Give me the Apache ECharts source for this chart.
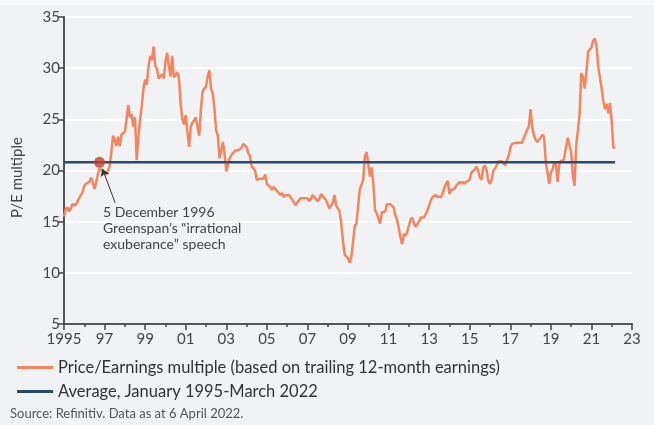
<!DOCTYPE html>
<html>
<head>
<meta charset="utf-8">
<script src="https://cdn.jsdelivr.net/npm/echarts@6/dist/echarts.min.js"></script>
<style>
html,body{margin:0;padding:0;background:#f1f2f4;}
#c{width:654px;height:425px;}
</style>
</head>
<body>
<div id="c"></div>
<script>
// ---- data ----
const startYear = 1995; // first month: January 1995, monthly values
const peMultiple = [
 15.5,16.2,16.4,16.0,16.3,16.7,16.8,16.6,17.0,17.3,17.4,17.9,
 18.5,18.7,18.8,18.9,19.3,18.9,18.2,18.8,19.6,20.2,20.2,19.9,
 19.8,19.6,19.7,20.4,21.8,23.4,23.0,22.4,23.3,22.4,23.5,23.6,
 23.8,25.0,26.4,25.2,25.5,24.3,25.2,21.0,23.3,24.9,26.3,28.0,
 28.9,28.4,30.2,31.2,30.8,32.1,30.2,29.9,29.0,29.2,29.4,29.0,
 30.6,31.5,30.2,29.2,31.2,29.1,29.0,29.6,29.0,26.5,25.0,24.5,
 25.4,23.8,22.3,24.3,24.7,24.9,25.2,24.2,23.4,26.0,27.7,28.0,
 28.2,29.2,29.8,28.0,27.5,26.0,23.9,23.4,21.2,21.9,22.8,21.6,
 19.9,19.8,21.2,21.5,21.5,21.9,21.8,22.0,21.9,22.2,22.6,22.6,
 22.3,21.7,21.4,20.4,20.2,20.0,19.1,19.1,19.2,19.2,19.2,19.6,
 18.7,18.7,18.4,18.1,18.4,18.2,18.1,17.8,17.6,17.8,17.4,17.6,
 17.5,17.6,17.4,17.3,16.9,16.6,16.5,17.1,17.3,17.3,17.3,17.4,
 17.3,17.0,17.2,17.6,17.7,17.2,17.0,17.2,17.7,17.6,17.3,17.1,
 16.7,16.3,16.3,16.8,17.6,16.6,16.3,16.0,14.9,13.1,11.8,11.6,
 11.4,11.0,11.6,13.0,14.6,14.8,16.6,18.2,18.6,19.1,21.4,21.8,
 20.6,19.4,20.3,18.7,16.1,15.8,15.9,14.8,15.9,15.8,16.0,16.7,
 16.8,16.7,16.8,16.4,15.6,15.2,14.4,13.5,12.8,13.8,13.6,14.0,
 14.6,15.2,15.4,14.9,14.5,14.6,15.0,15.4,15.5,15.4,15.4,16.1,
 16.6,17.1,17.4,17.4,17.6,17.4,17.5,17.4,17.8,18.3,18.7,19.0,
 17.7,18.1,18.0,18.2,18.5,18.6,18.9,18.7,18.9,18.7,18.9,19.0,
 19.1,19.8,19.9,20.1,20.4,20.0,19.3,19.1,20.3,20.5,20.0,19.0,
 18.7,19.1,20.0,20.2,20.5,20.9,21.0,20.9,20.7,20.5,21.0,21.4,
 22.2,22.6,22.7,22.7,22.8,22.7,22.8,22.7,23.2,23.6,24.0,24.3,
 26.0,24.2,23.4,23.0,22.8,22.9,23.2,23.5,23.3,20.8,19.8,18.7,
 19.8,20.1,20.8,20.6,18.9,20.6,21.0,20.8,21.3,22.3,23.2,23.1,
 21.8,19.5,18.5,22.5,23.9,25.5,29.5,29.2,28.0,29.5,31.6,31.7,
 32.0,32.7,32.9,32.2,30.1,30.2,28.1,26.8,26.0,26.5,25.6,26.6,
 24.8,22.2,22.3
];
const averageValue = 20.8;
const averageRange = [[1995, 1], [2022, 3]]; // January 1995 - March 2022
const eventDate = [1996, 10];
const yTicks = [5, 10, 15, 20, 25, 30, 35];
const xRange = [1995, 2023];
const seriesNames = ['Price/Earnings multiple (based on trailing 12-month earnings)', 'Average, January 1995-March 2022'];
const annotationLines = ['5 December 1996', 'Greenspan\u2019s \u201cirrational', 'exuberance\u201d speech'];
const arrowFrom = [1997.52, 16.85];
const arrowTo = [1996.9, 20.15];
const sourceText = 'Source: Refinitiv. Data as at 6 April 2022.';

// ---- helpers ----
const FONT = 'Lato';
const toX = (y, m) => (y - startYear) + (m - 1) / 12;
const peData = peMultiple.map((v, i) => [i / 12, v]);
const avgData = averageRange.map(d => [toX(d[0], d[1]), averageValue]);

const chart = echarts.init(document.getElementById('c'), null, {renderer: 'canvas'});
chart.setOption({
  backgroundColor: '#f1f2f4',
  animation: false,
  textStyle: {fontFamily: FONT},
  grid: {left: 64, right: 22, top: 17, bottom: 101, containLabel: false},
  xAxis: {
    type: 'value', min: 0, max: xRange[1] - xRange[0], interval: 2,
    axisLine: {lineStyle: {color: '#555', width: 2}},
    axisTick: {length: 6, lineStyle: {color: '#444', width: 1.5}},
    minorTick: {show: true, splitNumber: 2, length: 3, lineStyle: {color: '#444', width: 1.5}},
    splitLine: {show: false},
    axisLabel: {
      fontSize: 15, color: '#444', margin: 8, fontFamily: FONT,
      formatter: v => { const y = Math.round(v) + startYear; return y === startYear ? String(y) : String(y % 100).padStart(2, '0'); }
    }
  },
  yAxis: {
    type: 'value', min: yTicks[0], max: yTicks[yTicks.length - 1], interval: 5,
    name: 'P/E multiple', nameLocation: 'middle', nameGap: 39,
    nameTextStyle: {fontSize: 15, color: '#444', fontFamily: FONT, padding: [0, 14, 0, 0]},
    axisLine: {show: true, lineStyle: {color: '#555', width: 2}},
    axisTick: {show: true, length: 6, lineStyle: {color: '#444', width: 1.5}},
    splitLine: {lineStyle: {color: '#ffffff', width: 2}},
    axisLabel: {fontSize: 15, color: '#444', margin: 4, fontFamily: FONT}
  },
  legend: {
    orient: 'vertical', left: 12, top: 354, itemWidth: 36, itemHeight: 3, itemGap: 7,
    icon: 'rect',
    textStyle: {fontSize: 16.5, color: '#333', fontFamily: FONT},
    data: seriesNames
  },
  series: [
    {
      name: seriesNames[0], type: 'line', data: peData, showSymbol: false, symbol: 'none',
      lineStyle: {color: '#f5845f', width: 2.5}, itemStyle: {color: '#f5845f'}, z: 2
    },
    {
      name: seriesNames[1], type: 'line', data: avgData, showSymbol: false, symbol: 'none',
      lineStyle: {color: '#2c4a6e', width: 2.5}, itemStyle: {color: '#2c4a6e'}, z: 3
    },
    {
      name: 'event', type: 'scatter', data: [[toX(eventDate[0], eventDate[1]), averageValue]],
      symbolSize: 11, itemStyle: {color: '#c0442c'}, z: 5,
      markLine: {
        silent: true, symbol: ['none', 'arrow'], symbolSize: 7,
        lineStyle: {color: '#333', width: 1, type: 'solid'}, label: {show: false},
        data: [[{coord: [arrowFrom[0] - startYear, arrowFrom[1]]}, {coord: [arrowTo[0] - startYear, arrowTo[1]]}]]
      }
    }
  ],
  graphic: [
    {type: 'rect', left: 0, top: 0, shape: {width: 654, height: 5}, style: {fill: '#fafafa'}, silent: true},
    {type: 'text', left: 103, top: 204, style: {text: annotationLines.join('\n'), font: '14px ' + FONT, fill: '#444', lineHeight: 16}},
    {type: 'text', left: 10, top: 407, style: {text: sourceText, font: '13px ' + FONT, fill: '#555'}}
  ]
});
</script>
</body>
</html>
